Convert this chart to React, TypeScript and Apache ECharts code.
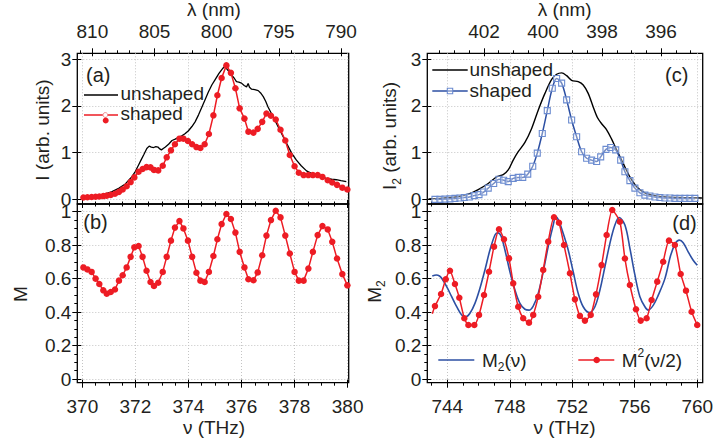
import React, { useEffect, useRef } from 'react';
import * as echarts from 'echarts';

// ---------------- data ----------------
// (a)/(b) shaped spectrum sample frequencies (THz)
const nuAB = [370.04, 370.19, 370.35, 370.5, 370.64, 370.79, 370.92, 371.07, 371.23, 371.38,
  371.52, 371.67, 371.82, 371.96, 372.12, 372.27, 372.42, 372.57, 372.7, 372.86,
  373.03, 373.18, 373.34, 373.49, 373.66, 373.81, 373.98, 374.14, 374.3, 374.45,
  374.61, 374.77, 374.94, 375.09, 375.25, 375.43, 375.6, 375.77, 375.93, 376.11,
  376.26, 376.45, 376.61, 376.78, 376.94, 377.11, 377.29, 377.47, 377.65, 377.82,
  378.0, 378.16, 378.34, 378.52, 378.69, 378.87, 379.05, 379.25, 379.42, 379.6,
  379.8, 379.99];
// (a) shaped intensity
const shapedA = [0.04, 0.045, 0.05, 0.055, 0.06, 0.07, 0.08, 0.095, 0.12, 0.16,
  0.21, 0.28, 0.37, 0.47, 0.59, 0.65, 0.69, 0.685, 0.63, 0.62,
  0.72, 0.9, 1.05, 1.18, 1.3, 1.3, 1.25, 1.18, 1.12, 1.1,
  1.18, 1.4, 1.8, 2.23, 2.6, 2.87, 2.71, 2.38, 1.95, 1.73,
  1.45, 1.43, 1.51, 1.66, 1.84, 1.79, 1.71, 1.49, 1.26, 0.95,
  0.71, 0.57, 0.52, 0.52, 0.52, 0.52, 0.48, 0.41, 0.36, 0.31,
  0.25, 0.21];
// (b) M
const mB = [0.667, 0.655, 0.64, 0.6, 0.568, 0.53, 0.51, 0.52, 0.535, 0.588,
  0.62, 0.667, 0.73, 0.787, 0.795, 0.73, 0.647, 0.58, 0.556, 0.575,
  0.64, 0.73, 0.827, 0.905, 0.944, 0.9, 0.827, 0.73, 0.635, 0.588,
  0.58, 0.64, 0.735, 0.835, 0.926, 0.986, 0.956, 0.875, 0.76, 0.667,
  0.596, 0.59, 0.637, 0.74, 0.857, 0.95, 1.006, 0.966, 0.857, 0.75,
  0.64, 0.588, 0.588, 0.66, 0.76, 0.86, 0.914, 0.894, 0.82, 0.72,
  0.627, 0.56];
// (a) unshaped [nu, I]
const unshapedA = [[370.0, 0.05], [370.3, 0.065], [370.6, 0.085], [370.9, 0.12], [371.1, 0.16],
  [371.37, 0.235], [371.62, 0.33], [371.87, 0.485], [372.0, 0.6], [372.12, 0.735], [372.22, 0.85],
  [372.31, 0.95], [372.43, 1.09], [372.52, 1.14], [372.6, 1.12], [372.69, 1.11], [372.77, 1.13],
  [372.85, 1.12], [372.92, 1.08], [372.98, 1.06], [373.05, 1.09], [373.13, 1.12], [373.25, 1.18],
  [373.38, 1.26], [373.5, 1.29], [373.63, 1.33], [373.75, 1.36], [373.88, 1.41], [374.0, 1.47],
  [374.13, 1.56], [374.25, 1.66], [374.38, 1.81], [374.5, 1.97], [374.63, 2.14], [374.75, 2.3],
  [374.88, 2.45], [375.0, 2.56], [375.15, 2.7], [375.3, 2.81], [375.38, 2.86], [375.45, 2.79],
  [375.55, 2.72], [375.63, 2.66], [375.72, 2.6], [375.81, 2.52], [375.9, 2.51], [376.0, 2.49],
  [376.1, 2.44], [376.19, 2.41], [376.25, 2.48], [376.3, 2.4], [376.38, 2.36], [376.5, 2.35],
  [376.63, 2.33], [376.72, 2.28], [376.82, 2.2], [376.91, 2.1], [377.0, 1.98], [377.19, 1.77],
  [377.44, 1.485], [377.7, 1.2], [377.9, 0.98], [378.07, 0.84], [378.25, 0.72], [378.45, 0.61],
  [378.65, 0.55], [378.82, 0.51], [379.0, 0.48], [379.2, 0.45], [379.4, 0.43], [379.57, 0.42],
  [379.75, 0.4], [379.95, 0.38]];
// (c) shaped SH spectrum sample frequencies and values
const nuC = [743.21, 743.53, 743.85, 744.17, 744.49, 744.81, 745.09, 745.41, 745.73, 746.03,
  746.33, 746.62, 746.97, 747.31, 747.61, 747.9, 748.22, 748.54, 748.83, 749.15,
  749.47, 749.76, 750.08, 750.4, 750.72, 751.0, 751.32, 751.64, 751.96, 752.28,
  752.6, 752.92, 753.24, 753.56, 753.82, 754.16, 754.46, 754.78, 755.1, 755.37,
  755.69, 756.01, 756.33, 756.65, 756.97, 757.29, 757.61, 757.93, 758.25, 758.57,
  758.89, 759.21, 759.53, 759.85];
const shapedC = [0.0, 0.0, 0.005, 0.01, 0.02, 0.03, 0.04, 0.05, 0.08, 0.1,
  0.156, 0.24, 0.34, 0.43, 0.41, 0.38, 0.45, 0.47, 0.47, 0.54,
  0.71, 0.99, 1.41, 1.9, 2.38, 2.59, 2.49, 2.13, 1.7, 1.34,
  1.02, 0.88, 0.84, 0.81, 0.91, 1.07, 1.11, 1.06, 0.84, 0.59,
  0.4, 0.24, 0.14, 0.09, 0.07, 0.05, 0.04, 0.03, 0.03, 0.02,
  0.02, 0.02, 0.02, 0.02];
// (c) unshaped [nu, I2]
const unshapedC = [[742.8, 0.01], [743.5, 0.02], [744.2, 0.04], [744.7, 0.06], [745.34, 0.11],
  [745.98, 0.21], [746.62, 0.34], [747.16, 0.48], [747.58, 0.53], [747.9, 0.63], [748.22, 0.84],
  [748.54, 1.02], [748.97, 1.22], [749.4, 1.52], [749.82, 1.91], [750.25, 2.27], [750.68, 2.57],
  [751.0, 2.68], [751.32, 2.71], [751.64, 2.65], [751.96, 2.55], [752.38, 2.52], [752.7, 2.45],
  [753.02, 2.27], [753.34, 1.98], [753.6, 1.76], [753.88, 1.62], [754.2, 1.49], [754.52, 1.29],
  [754.84, 1.06], [755.26, 0.77], [755.69, 0.48], [756.12, 0.27], [756.65, 0.14], [757.29, 0.08],
  [758.0, 0.05], [759.0, 0.04], [760.3, 0.03]];
// (d) M2(nu) blue curve [nu, M2]
const m2Blue = [[743.04, 0.616], [743.3, 0.622], [743.5, 0.616], [743.64, 0.602], [743.96, 0.552],
  [744.28, 0.492], [744.6, 0.432], [744.92, 0.383], [745.18, 0.372], [745.45, 0.393], [745.77, 0.452],
  [746.09, 0.542], [746.41, 0.652], [746.73, 0.771], [747.05, 0.861], [747.22, 0.874], [747.44, 0.855],
  [747.69, 0.771], [748.01, 0.641], [748.33, 0.532], [748.65, 0.452], [748.97, 0.417], [749.23, 0.412],
  [749.5, 0.436], [749.82, 0.512], [750.14, 0.641], [750.46, 0.791], [750.78, 0.92], [750.95, 0.97],
  [751.12, 0.95], [751.42, 0.87], [751.74, 0.771], [752.06, 0.641], [752.38, 0.512], [752.7, 0.432],
  [753.09, 0.397], [753.45, 0.432], [753.77, 0.532], [754.09, 0.671], [754.41, 0.811], [754.73, 0.92],
  [755.0, 0.965], [755.37, 0.92], [755.69, 0.781], [756.01, 0.622], [756.33, 0.492], [756.65, 0.432],
  [756.86, 0.412], [757.18, 0.44], [757.5, 0.5], [757.93, 0.6], [758.3, 0.74], [758.6, 0.81],
  [758.85, 0.83], [759.1, 0.815], [759.42, 0.76], [759.74, 0.71], [760.0, 0.68]];
// (d) M^2(nu/2) red points [nu, value]
const m2RedStart = [743.04, 0.39];
const m2Red = [[743.21, 0.436], [743.6, 0.508], [743.9, 0.596], [744.17, 0.647], [744.49, 0.568],
  [744.77, 0.486], [745.09, 0.363], [745.35, 0.323], [745.73, 0.323], [746.03, 0.383], [746.35, 0.502],
  [746.67, 0.641], [746.99, 0.791], [747.31, 0.895], [747.63, 0.835], [747.95, 0.721], [748.22, 0.572],
  [748.54, 0.432], [748.86, 0.363], [749.23, 0.337], [749.5, 0.383], [749.82, 0.492], [750.14, 0.652],
  [750.46, 0.821], [750.83, 0.967], [751.15, 0.934], [751.47, 0.801], [751.85, 0.632], [752.17, 0.476],
  [752.49, 0.377], [752.81, 0.349], [753.18, 0.383], [753.52, 0.506], [753.88, 0.681], [754.2, 0.861],
  [754.56, 1.01], [755.05, 0.94], [755.37, 0.72], [755.69, 0.562], [756.08, 0.417], [756.38, 0.349],
  [756.76, 0.363], [757.08, 0.472], [757.44, 0.582], [757.82, 0.701], [758.19, 0.827], [758.57, 0.801],
  [758.94, 0.628], [759.28, 0.528], [759.64, 0.402], [760.0, 0.323]];

// tick labels
const nuLeftTicks = [370, 372, 374, 376, 378, 380];
const nuRightTicks = [744, 748, 752, 756, 760];
const lamLeftTicks = [810, 805, 800, 795, 790];
const lamRightTicks = [402, 400, 398, 396];
const iTicks = [0, 1, 2, 3];
const mTicks = [0, 0.2, 0.4, 0.6, 0.8, 1];

// ---------------- styling / layout ----------------
const FONT = "'Liberation Sans', Arial, Helvetica, sans-serif";
const TXT = '#231f20';
const RED = '#ed1c24';
const BLUE = '#2c4fa3';
const FS = 19;

const NU_L: [number, number] = [369.81, 380.04];
const NU_R: [number, number] = [742.72, 760.35];
const LAM_L: [number, number] = [789.38, 811.21];
const LAM_R: [number, number] = [394.59, 403.92];
const Y_I: [number, number] = [-0.1, 3.129];
const Y_M: [number, number] = [-0.022, 1.046];

function steps(a: number, b: number, s: number) {
  const out: number[] = [];
  for (let v = a; v <= b + 1e-9; v += s) out.push(Math.round(v * 1000) / 1000);
  return out;
}

function mkAxis(gridIndex: number, position: string, r: [number, number], ticks: number[], len: number,
  inside: boolean, more: any = {}) {
  const o: any = {
    type: 'value', gridIndex, position, min: r[0], max: r[1], inverse: !!more.inverse,
    axisLine: { show: false, onZero: false },
    axisTick: { show: true, customValues: ticks, length: len, inside, lineStyle: { color: '#000', width: 1 } },
    axisLabel: { show: false },
    splitLine: { show: false },
    minorTick: { show: false },
    minorSplitLine: { show: false },
    axisPointer: { show: false },
    silent: true,
  };
  if (more.labels) {
    o.axisLabel = { show: true, customValues: more.labels, margin: more.margin, fontSize: FS, fontFamily: FONT, color: TXT };
    if (more.lineHeight) o.axisLabel.lineHeight = more.lineHeight;
  }
  if (more.split) {
    o.splitLine = { show: true, lineStyle: { color: '#c4c4c4', width: 1, type: [1, 2] } };
  }
  return o;
}

function txt(x: number, y: number, text: string, align: string, size = FS, rotation = 0, rich?: any) {
  const style: any = { text, x: 0, y: 0, fontSize: size, fontFamily: FONT, fill: TXT, align, verticalAlign: 'middle', textAlign: align, textVerticalAlign: 'middle' };
  if (rich) style.rich = rich;
  return { type: 'text', x, y, rotation, silent: true, z: 20, style };
}

const RICH = {
  m: { fontSize: FS, fontFamily: FONT, fill: TXT, color: TXT, lineHeight: 26 },
  s: { fontSize: 12, fontFamily: FONT, fill: TXT, color: TXT, lineHeight: 12, verticalAlign: 'bottom' },
  p: { fontSize: 12, fontFamily: FONT, fill: TXT, color: TXT, lineHeight: 12, verticalAlign: 'top' },
};

function hline(x1: number, x2: number, y: number, color: string, w = 1.4) {
  return { type: 'line', silent: true, z: 20, shape: { x1, y1: y, x2, y2: y }, style: { stroke: color, lineWidth: w } };
}

function buildOption() {
  const xAxes: any[] = [];
  const yAxes: any[] = [];
  const ax = (list: any[], o: any) => { list.push(o); return list.length - 1; };

  const nuLMinor = steps(370, 380, 0.5);
  const nuRMinor = steps(743, 760, 1);
  const lamLMinor = steps(790, 811, 1);
  const lamRMinor = steps(395, 403.5, 0.5);
  const mMinor = steps(0, 1, 0.05);

  // grid 0: (a)
  const xa = ax(xAxes, mkAxis(0, 'bottom', NU_L, nuLeftTicks, 4, false, { split: true }));
  ax(xAxes, mkAxis(0, 'bottom', NU_L, nuLMinor, 2.5, false));
  ax(xAxes, mkAxis(0, 'top', LAM_L, lamLeftTicks, 5, false, { inverse: true, labels: lamLeftTicks, margin: 12 }));
  ax(xAxes, mkAxis(0, 'top', LAM_L, lamLMinor, 3, false, { inverse: true }));
  ax(xAxes, mkAxis(0, 'top', LAM_L, lamLeftTicks, 3, true, { inverse: true }));
  const ya = ax(yAxes, mkAxis(0, 'left', Y_I, iTicks, 5, false, { labels: iTicks, margin: 6, split: true, lineHeight: 12 }));
  ax(yAxes, mkAxis(0, 'left', Y_I, iTicks, 4, true));

  // grid 1: (b)
  const xb = ax(xAxes, mkAxis(1, 'bottom', NU_L, nuLeftTicks, 5, false, { labels: nuLeftTicks, margin: 14, split: true }));
  ax(xAxes, mkAxis(1, 'bottom', NU_L, nuLMinor, 3, false));
  ax(xAxes, mkAxis(1, 'bottom', NU_L, nuLeftTicks, 3, true));
  ax(xAxes, mkAxis(1, 'top', NU_L, nuLeftTicks, 4, false));
  ax(xAxes, mkAxis(1, 'top', NU_L, nuLMinor, 2.5, false));
  const yb = ax(yAxes, mkAxis(1, 'left', Y_M, mTicks, 5, false, { labels: mTicks, margin: 6, split: true, lineHeight: 12 }));
  ax(yAxes, mkAxis(1, 'left', Y_M, mMinor, 3, false));
  ax(yAxes, mkAxis(1, 'left', Y_M, mTicks, 4, true));

  // grid 2: (c)
  const xc = ax(xAxes, mkAxis(2, 'bottom', NU_R, nuRightTicks, 4, false, { split: true }));
  ax(xAxes, mkAxis(2, 'bottom', NU_R, nuRMinor, 2.5, false));
  ax(xAxes, mkAxis(2, 'top', LAM_R, lamRightTicks, 5, false, { inverse: true, labels: lamRightTicks, margin: 12 }));
  ax(xAxes, mkAxis(2, 'top', LAM_R, lamRMinor, 3, false, { inverse: true }));
  ax(xAxes, mkAxis(2, 'top', LAM_R, lamRightTicks, 3, true, { inverse: true }));
  const yc = ax(yAxes, mkAxis(2, 'left', Y_I, iTicks, 5, false, { labels: iTicks, margin: 6, split: true, lineHeight: 12 }));
  ax(yAxes, mkAxis(2, 'left', Y_I, iTicks, 4, true));

  // grid 3: (d)
  const xd = ax(xAxes, mkAxis(3, 'bottom', NU_R, nuRightTicks, 5, false, { labels: nuRightTicks, margin: 14, split: true }));
  ax(xAxes, mkAxis(3, 'bottom', NU_R, nuRMinor, 3, false));
  ax(xAxes, mkAxis(3, 'bottom', NU_R, nuRightTicks, 3, true));
  ax(xAxes, mkAxis(3, 'top', NU_R, nuRightTicks, 4, false));
  ax(xAxes, mkAxis(3, 'top', NU_R, nuRMinor, 2.5, false));
  const yd = ax(yAxes, mkAxis(3, 'left', Y_M, mTicks, 5, false, { labels: mTicks, margin: 6, split: true, lineHeight: 12 }));
  ax(yAxes, mkAxis(3, 'left', Y_M, mMinor, 3, false));
  ax(yAxes, mkAxis(3, 'left', Y_M, mTicks, 4, true));

  const gridBase = { show: true, borderColor: '#000', borderWidth: 1.3, backgroundColor: 'transparent', containLabel: false, outerBoundsMode: 'none' };
  const grid = [
    { ...gridBase, left: 77.3, top: 53.3, width: 271.4, height: 150.7 },
    { ...gridBase, left: 77.3, top: 204, width: 271.4, height: 178.7 },
    { ...gridBase, left: 427.3, top: 53.3, width: 275.4, height: 150.7 },
    { ...gridBase, left: 427.3, top: 204, width: 275.4, height: 178.7 },
  ];

  const zip = (xs: number[], ys: number[]) => xs.map((x, i) => [x, ys[i]]);

  const series: any[] = [
    { name: 'unshaped', type: 'line', xAxisIndex: xa, yAxisIndex: ya, data: unshapedA, symbol: 'none',
      lineStyle: { color: '#000', width: 1.3 }, z: 3 },
    { name: 'shaped', type: 'line', xAxisIndex: xa, yAxisIndex: ya, data: zip(nuAB, shapedA), symbol: 'circle',
      symbolSize: 6.5, itemStyle: { color: RED }, lineStyle: { color: RED, width: 1.5 }, z: 4 },
    { name: 'M', type: 'line', xAxisIndex: xb, yAxisIndex: yb, data: zip(nuAB, mB), symbol: 'circle',
      symbolSize: 6.5, itemStyle: { color: RED }, lineStyle: { color: RED, width: 1.5 }, z: 4 },
    { name: 'unshaped2', type: 'line', xAxisIndex: xc, yAxisIndex: yc, data: unshapedC, symbol: 'none', smooth: 0.3,
      lineStyle: { color: '#000', width: 1.4 }, z: 3 },
    { name: 'shaped2', type: 'line', xAxisIndex: xc, yAxisIndex: yc, data: zip(nuC, shapedC), symbol: 'rect', smooth: 0.3,
      symbolSize: 6, itemStyle: { color: 'rgba(255,255,255,0.35)', borderColor: '#6b8bd0', borderWidth: 1.1 },
      lineStyle: { color: BLUE, width: 1.5 }, z: 4 },
    { name: 'M2', type: 'line', xAxisIndex: xd, yAxisIndex: yd, data: m2Blue, symbol: 'none', smooth: 0.35,
      lineStyle: { color: BLUE, width: 1.6 }, z: 3 },
    { name: 'M^2(nu/2)', type: 'line', xAxisIndex: xd, yAxisIndex: yd,
      data: [{ value: m2RedStart, symbol: 'none' }, ...m2Red], symbol: 'circle', smooth: 0.2,
      symbolSize: 6.5, itemStyle: { color: RED }, lineStyle: { color: RED, width: 1.5 }, z: 4 },
  ];

  const graphic: any[] = [
    // axis titles
    txt(214, 9.6, 'λ (nm)', 'center'),
    txt(564.7, 9.6, 'λ (nm)', 'center'),
    txt(214, 427.5, 'ν (THz)', 'center'),
    txt(564.5, 427.5, 'ν (THz)', 'center'),
    txt(42, 130, 'I (arb. units)', 'center', FS, Math.PI / 2),
    txt(20.5, 294, 'M', 'center', FS, Math.PI / 2),
    txt(389.5, 136, '{m|I}{s|2}{m| (arb. units)}', 'center', FS, Math.PI / 2, RICH),
    txt(374, 291.5, '{m|M}{s|2}', 'center', FS, Math.PI / 2, RICH),
    // panel labels
    txt(86, 74.9, '(a)', 'left', 20),
    txt(83.3, 222.1, '(b)', 'left', 20),
    txt(688.3, 74.9, '(c)', 'right', 20),
    txt(696.7, 223.2, '(d)', 'right', 20),
    // legend (a)
    hline(84, 118, 95, '#000', 1.3),
    txt(120.5, 93.4, 'unshaped', 'left'),
    hline(84, 118, 115, RED, 1.5),
    { type: 'circle', silent: true, z: 21, shape: { cx: 105.3, cy: 115, r: 2.4 }, style: { fill: '#fff', stroke: '#f08a8e', lineWidth: 1 } },
    { type: 'circle', silent: true, z: 21, shape: { cx: 105.7, cy: 120.5, r: 3 }, style: { fill: RED } },
    txt(120.5, 113.4, 'shaped', 'left'),
    // legend (c)
    hline(432.3, 467.7, 70, '#000', 1.3),
    txt(469.5, 69.4, 'unshaped', 'left'),
    hline(432.3, 467.7, 91, BLUE, 1.5),
    { type: 'rect', silent: true, z: 21, shape: { x: 447.3, y: 88.3, width: 5.4, height: 5.4 }, style: { fill: 'rgba(255,255,255,0.4)', stroke: '#6b8bd0', lineWidth: 1.1 } },
    txt(469.5, 90.4, 'shaped', 'left'),
    // legend (d)
    hline(438.3, 474.3, 360, BLUE, 1.6),
    txt(482, 360, '{m|M}{s|2}{m|(ν)}', 'left', FS, 0, RICH),
    hline(578.3, 614.3, 360, RED, 1.5),
    { type: 'circle', silent: true, z: 21, shape: { cx: 596.7, cy: 360, r: 3.3 }, style: { fill: RED } },
    txt(621.7, 360, '{m|M}{p|2}{m|(ν/2)}', 'left', FS, 0, RICH),
  ];

  return {
    animation: false,
    backgroundColor: '#fff',
    textStyle: { fontFamily: FONT },
    grid,
    xAxis: xAxes,
    yAxis: yAxes,
    series,
    graphic: { elements: graphic },
  };
}

export default function App() {
  const ref = useRef<HTMLDivElement>(null);
  useEffect(() => {
    document.body.style.margin = '0';
    if (!ref.current) return;
    const chart = echarts.init(ref.current, undefined, { renderer: 'svg' });
    chart.setOption(buildOption() as any);
    return () => chart.dispose();
  }, []);
  return <div ref={ref} style={{ width: 715, height: 444 }} />;
}
